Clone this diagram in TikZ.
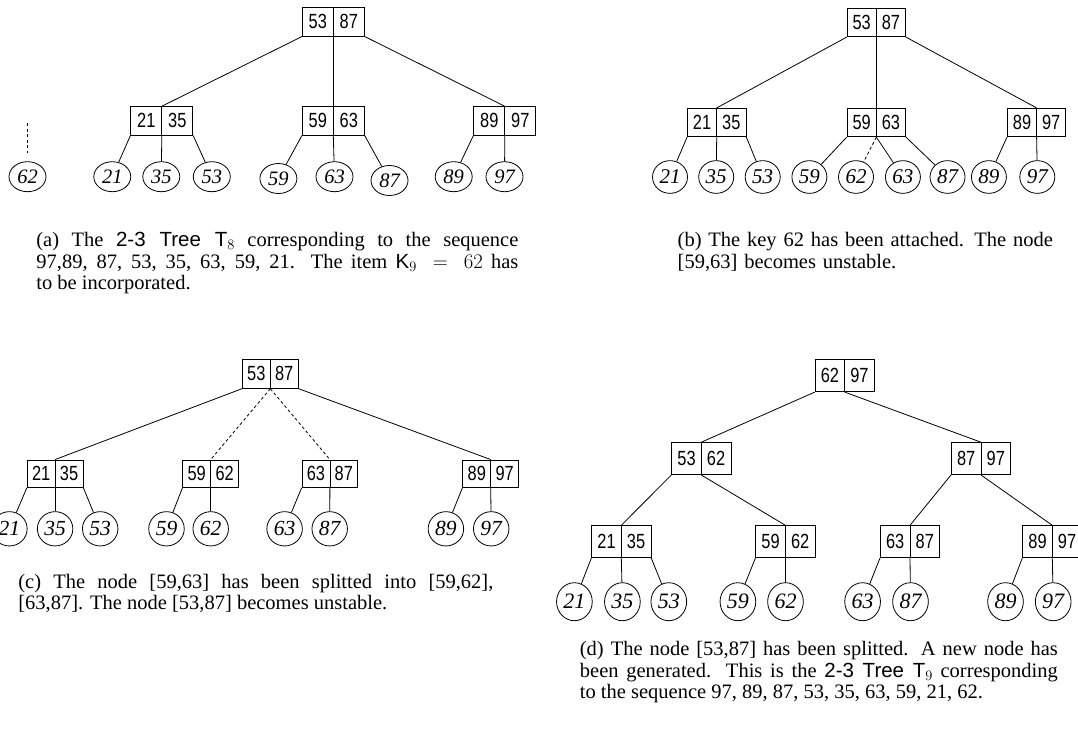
\documentclass[tikz,border=0pt]{standalone}
\usepackage[no-math]{fontspec}
\setmainfont{Liberation Serif}
\setsansfont{Liberation Sans}
\newfontfamily\keyfont[FakeStretch=0.8]{Liberation Sans}
\usetikzlibrary{shapes.geometric}

% width of one key cell of a 2-node, and size of the leaf labels
\newlength\cellw
\newcommand\lsz{21}
\newcommand\kk[2]{\makebox[\cellw]{#1}\makebox[\cellw]{#2}}
\newcommand\tree[1]{{\sffamily 2-3 Tree T}$_{#1}$}

\begin{document}
\begin{tikzpicture}[x=1pt,y=-1pt,line width=0.8pt,
  keybox/.style={draw, inner sep=0pt, minimum width=2\cellw, minimum height=#1,
    font=\keyfont\fontsize{20.5}{20.5}\selectfont,
    path picture={\draw (path picture bounding box.north) -- (path picture bounding box.south);}},
  leaf/.style 2 args={draw, ellipse, inner sep=0pt, minimum width=#1, minimum height=#2,
    font=\itshape\fontsize{\lsz}{\lsz}\selectfont},
  pending/.style={dashed, dash pattern=on 3pt off 2.5pt},
  caption/.style={anchor=base west, inner sep=0pt, text width=#1, align=justify,
    font=\fontsize{20.5}{21.5}\selectfont}]
\useasboundingbox (0,0) rectangle (1078,732);
\clip (0,0) rectangle (1078,732);

% ---------------- (a) the tree T_8 and the new key ----------------
\begin{scope}
\setlength\cellw{31pt}
\renewcommand\lsz{20.5}
\node[keybox=28.5pt] (ar) at (333.3,21.9) {\kk{53}{87}};
\node[keybox=28.5pt] (a1) at (161.8,120.9) {\kk{21}{35}};
\node[keybox=28.5pt] (a2) at (333.3,120.9) {\kk{59}{63}};
\node[keybox=28.5pt] (a3) at (504.8,120.9) {\kk{89}{97}};
\node[leaf={37pt}{30pt}] (a62) at (27.5,176.7) {62};
\node[leaf={37pt}{30pt}] (a21) at (112.3,176.7) {21};
\node[leaf={37pt}{30pt}] (a35) at (161.3,176.7) {35};
\node[leaf={37pt}{30pt}] (a53) at (211.8,176.7) {53};
\node[leaf={37pt}{30pt}] (a59) at (278.4,178.5) {59};
\node[leaf={37pt}{30pt}] (a63) at (334.5,176.7) {63};
\node[leaf={37pt}{30pt}] (a87) at (389.5,180.5) {87};
\node[leaf={37pt}{30pt}] (a89) at (453.7,176.7) {89};
\node[leaf={37pt}{30pt}] (a97) at (504.5,176.7) {97};
\coordinate (aup) at (27.5,123);
\coordinate (adn) at (27.5,153);
\draw (ar.south west) -- (a1.north);
\draw (ar.south) -- (a2.north);
\draw (ar.south east) -- (a3.north);
\draw (a1.south west) -- (a21);
\draw (a1.south) -- (a35);
\draw (a1.south east) -- (a53);
\draw (a2.south west) -- (a59);
\draw (a2.south) -- (a63);
\draw (a2.south east) -- (a87);
\draw (a3.south west) -- (a89);
\draw (a3.south) -- (a97);
\draw[pending] (aup) -- (adn);
\node[caption=482pt] (capa) at (36,246.7)
  {(a) The \tree{8} corresponding to the sequence\linebreak{}
   97,89, 87, 53, 35, 63, 59, 21. The item {\sffamily K}$_9\,=\,62$ has\linebreak{}
   to be incorporated.};
\end{scope}

% ---------------- (b) key 62 attached ----------------
\begin{scope}
\setlength\cellw{29.2pt}
\renewcommand\lsz{21}
\node[keybox=28.4pt] (br) at (876.3,22.5) {\kk{53}{87}};
\node[keybox=28.4pt] (b1) at (716.7,122.5) {\kk{21}{35}};
\node[keybox=28.4pt] (b2) at (876.3,122.5) {\kk{59}{63}};
\node[keybox=28.4pt] (b3) at (1036.6,122.5) {\kk{89}{97}};
\node[leaf={35pt}{32.7pt}] (b21) at (670,177) {21};
\node[leaf={35pt}{32.7pt}] (b35) at (716.2,177) {35};
\node[leaf={35pt}{32.7pt}] (b53) at (762.7,177) {53};
\node[leaf={35pt}{32.7pt}] (b59) at (809.4,177) {59};
\node[leaf={35pt}{32.7pt}] (b62) at (856,177) {62};
\node[leaf={35pt}{32.7pt}] (b63) at (902.9,177) {63};
\node[leaf={35pt}{32.7pt}] (b87) at (947.5,177) {87};
\node[leaf={35pt}{32.7pt}] (b89) at (988.9,177) {89};
\node[leaf={35pt}{32.7pt}] (b97) at (1037.3,177) {97};
\draw (br.south west) -- (b1.north);
\draw (br.south) -- (b2.north);
\draw (br.south east) -- (b3.north);
\draw (b1.south west) -- (b21);
\draw (b1.south) -- (b35);
\draw (b1.south east) -- (b53);
\draw (b2.south west) -- (b59);
\draw[pending] (b2.south) -- (b62);
\draw (b2.south) -- (b63);
\draw (b2.south east) -- (b87);
\draw (b3.south west) -- (b89);
\draw (b3.south) -- (b97);
\node[caption=400pt, align=left] (capb) at (677.3,246.7)
  {(b) The key 62 has been attached. The node\\{}
   [59,63] becomes unstable.};
\end{scope}

% ---------------- (c) [59,63] split ----------------
\begin{scope}
\setlength\cellw{27.9pt}
\renewcommand\lsz{21.5}
\node[keybox=29pt] (cr) at (270.3,373.8) {\kk{53}{87}};
\node[keybox=27.5pt] (c1) at (55.1,473.7) {\kk{21}{35}};
\node[keybox=27.5pt] (c2) at (210.7,473.7) {\kk{59}{62}};
\node[keybox=27.5pt] (c3) at (329.9,473.7) {\kk{63}{87}};
\node[keybox=27.5pt] (c4) at (490.7,473.7) {\kk{89}{97}};
\node[leaf={35.5pt}{34.3pt}] (c21) at (9.4,528.8) {21};
\node[leaf={35.5pt}{34.3pt}] (c35) at (55.1,528.8) {35};
\node[leaf={35.5pt}{34.3pt}] (c53) at (100.2,528.8) {53};
\node[leaf={35.5pt}{34.3pt}] (c59) at (166.5,528.8) {59};
\node[leaf={35.5pt}{34.3pt}] (c62) at (210.7,528.8) {62};
\node[leaf={35.5pt}{34.3pt}] (c63) at (284.6,528.8) {63};
\node[leaf={35.5pt}{34.3pt}] (c87) at (329.7,528.8) {87};
\node[leaf={35.5pt}{34.3pt}] (c89) at (445.9,528.8) {89};
\node[leaf={35.5pt}{34.3pt}] (c97) at (491.2,528.8) {97};
\draw (cr.south west) -- (c1.north);
\draw[pending] (cr.south) -- (c2.north);
\draw[pending] (cr.south) -- (c3.north);
\draw (cr.south east) -- (c4.north);
\draw (c1.south west) -- (c21);
\draw (c1.south) -- (c35);
\draw (c1.south east) -- (c53);
\draw (c2.south west) -- (c59);
\draw (c2.south) -- (c62);
\draw (c3.south west) -- (c63);
\draw (c3.south) -- (c87);
\draw (c4.south west) -- (c89);
\draw (c4.south) -- (c97);
\node[caption=475pt] (capc) at (18,588)
  {(c) The node [59,63] has been splitted into [59,62],\linebreak{}
   [63,87]. The node [53,87] becomes unstable.};
\end{scope}

% ---------------- (d) the tree T_9 ----------------
\begin{scope}
\setlength\cellw{29.6pt}
\renewcommand\lsz{22}
\node[keybox=32.4pt] (dr) at (844.7,375.5) {\kk{62}{97}};
\node[keybox=32pt] (d1) at (701.3,458.6) {\kk{53}{62}};
\node[keybox=32pt] (d2) at (981,458.6) {\kk{87}{97}};
\node[keybox=32pt] (e1) at (621.3,541.7) {\kk{21}{35}};
\node[keybox=32pt] (e2) at (785.4,541.7) {\kk{59}{62}};
\node[keybox=32pt] (e3) at (910,541.7) {\kk{63}{87}};
\node[keybox=32pt] (e4) at (1052.3,541.7) {\kk{89}{97}};
\node[leaf={35.7pt}{38pt}] (d21) at (574.4,601.7) {21};
\node[leaf={35.7pt}{38pt}] (d35) at (622.4,601.7) {35};
\node[leaf={35.7pt}{38pt}] (d53) at (668.8,601.7) {53};
\node[leaf={35.7pt}{38pt}] (d59) at (737.9,601.7) {59};
\node[leaf={35.7pt}{38pt}] (d62) at (785.5,601.7) {62};
\node[leaf={35.7pt}{38pt}] (d63) at (862.6,601.7) {63};
\node[leaf={35.7pt}{38pt}] (d87) at (910.5,601.7) {87};
\node[leaf={35.7pt}{38pt}] (d89) at (1005.5,601.7) {89};
\node[leaf={35.7pt}{38pt}] (d97) at (1053.2,601.7) {97};
\draw (dr.south west) -- (d1.north);
\draw (dr.south) -- (d2.north);
\draw (d1.south west) -- (e1.north);
\draw (d1.south) -- (e2.north);
\draw (d2.south west) -- (e3.north);
\draw (d2.south) -- (e4.north);
\draw (e1.south west) -- (d21);
\draw (e1.south) -- (d35);
\draw (e1.south east) -- (d53);
\draw (e2.south west) -- (d59);
\draw (e2.south) -- (d62);
\draw (e3.south west) -- (d63);
\draw (e3.south) -- (d87);
\draw (e4.south west) -- (d89);
\draw (e4.south) -- (d97);
\node[caption=478pt] (capd) at (579.5,655.5)
  {(d) The node [53,87] has been splitted. A new node has\linebreak{}
   been generated. This is the \tree{9} corresponding\linebreak{}
   to the sequence 97, 89, 87, 53, 35, 63, 59, 21, 62.};
\end{scope}
\end{tikzpicture}
\end{document}
